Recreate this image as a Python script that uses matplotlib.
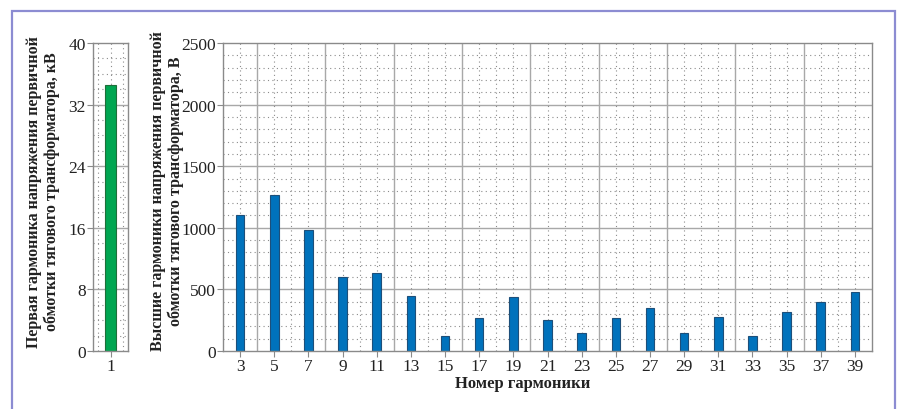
import matplotlib
matplotlib.use("Agg")
import matplotlib.pyplot as plt
import numpy as np
from matplotlib.patches import Rectangle

# first harmonic, kV
first_n = [1]
first_kv = [34.5]

# higher harmonics, V
harm_n = [3, 5, 7, 9, 11, 13, 15, 17, 19, 21, 23, 25, 27, 29, 31, 33, 35, 37, 39]
harm_v = [1100, 1270, 980, 600, 630, 450, 125, 270, 440, 250,
          145, 270, 345, 145, 280, 125, 315, 400, 475]

plt.rcParams['font.family'] = ['Liberation Serif', 'DejaVu Serif']
plt.rcParams['font.size'] = 12

fig = plt.figure(figsize=(8.98, 4.10), dpi=100)

grid_c = '#a8a8a8'
dot_c = '#8c8c8c'
spine_c = '#8a8a8a'


def style_axes(ax):
    for s in ax.spines.values():
        s.set_color(spine_c)
        s.set_linewidth(1.0)
    ax.tick_params(direction='out', length=4, width=0.8, color=spine_c,
                   labelsize=12.5, labelcolor='#222222', pad=1)
    ax.set_axisbelow(True)


# left panel
ax1 = fig.add_axes([93 / 898, 1 - 352 / 410, 35 / 898, 308 / 410])
ax1.set_xlim(0.3, 1.7)
ax1.set_ylim(0, 40)
for y in np.arange(2, 40, 2):
    if y % 8 == 0:
        ax1.axhline(y, color=grid_c, lw=1.0, zorder=0)
    else:
        ax1.axhline(y, color=dot_c, lw=0.8, ls=(0, (1, 3)), zorder=0)
for x in [0.5, 1.0, 1.5]:
    ax1.axvline(x, color=dot_c, lw=0.8, ls=(0, (1, 3)), zorder=0)
ax1.bar(first_n, first_kv, width=0.42, color='#00a651', edgecolor='#1f6e3a',
        linewidth=0.8, zorder=2)
ax1.set_yticks(np.arange(0, 41, 8))
ax1.set_xticks(first_n)
style_axes(ax1)

# right panel
ax2 = fig.add_axes([223 / 898, 1 - 352 / 410, 649 / 898, 308 / 410])
ax2.set_xlim(2, 40)
ax2.set_ylim(0, 2500)
for y in np.arange(100, 2500, 100):
    if y % 500 == 0:
        ax2.axhline(y, color=grid_c, lw=1.0, zorder=0)
    else:
        ax2.axhline(y, color=dot_c, lw=0.8, ls=(0, (1, 3)), zorder=0)
for x in range(3, 40):
    if x % 4 == 0:
        ax2.axvline(x, color=grid_c, lw=1.0, zorder=0)
    else:
        ax2.axvline(x, color=dot_c, lw=0.8, ls=(0, (1, 3)), zorder=0)
ax2.bar(harm_n, harm_v, width=0.5, color='#0072bc', edgecolor='#1d4f7a',
        linewidth=0.8, zorder=2)
ax2.set_xticks(harm_n)
ax2.set_yticks(np.arange(0, 2501, 500))
style_axes(ax2)

fig.text(523 / 898, 1 - 384 / 410, 'Номер гармоники', ha='center', va='center',
         fontsize=12, fontweight='bold', color='#222222')

fig.text(43 / 898, 1 - 192 / 410,
         'Первая гармоника напряжения первичной\nобмотки тягового трансформатора, кВ',
         rotation=90, ha='center', va='center', fontsize=11.5, fontweight='bold',
         color='#222222', linespacing=1.05)
fig.text(167 / 898, 1 - 191 / 410,
         'Высшие гармоники напряжения первичной\nобмотки тягового трансформатора, В',
         rotation=90, ha='center', va='center', fontsize=11.5, fontweight='bold',
         color='#222222', linespacing=1.05)

# frame around the figure
fig.patches.append(Rectangle((12 / 898, -0.2), (895 - 12) / 898, 1.2 - 12 / 410,
                             transform=fig.transFigure, fill=False,
                             edgecolor='#8c8cd2', linewidth=1.6))

fig.savefig('out.png', dpi=100)
